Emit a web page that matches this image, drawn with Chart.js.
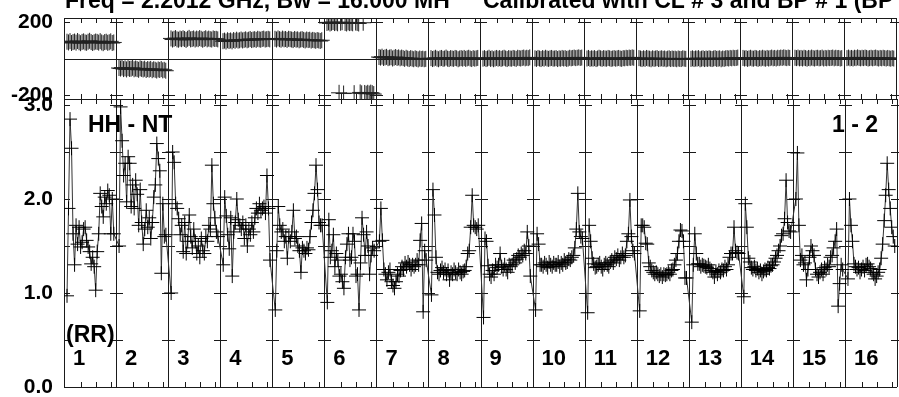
<!DOCTYPE html>
<html><head><meta charset="utf-8">
<script src="https://cdn.jsdelivr.net/npm/chart.js@4.4.1/dist/chart.umd.min.js"></script>
<style>
html,body{margin:0;padding:0;background:#fff;overflow:hidden;width:899px;height:397px;}
#wrap{position:relative;width:899px;height:397px;overflow:hidden;background:#fff;}
canvas{position:absolute;left:0;top:0;}
</style></head><body>
<div id="wrap"><canvas id="amp" width="905" height="397"></canvas><canvas id="ph" width="905" height="397"></canvas></div>
<script>
// ---- categories / tick labels ----
const ifLabels = ['1','2','3','4','5','6','7','8','9','10','11','12','13','14','15','16'];
const channels = [1,2,3,4,5,6,7,8,9,10,11,12,13,14,15,16,17,18,19,20,21,22,23,24,25,26,27,28,29,30,31,32];
const channelTicks = [10,20,30];
const phaseTicks = [-200, 200];
const ampTicks = [0, 1, 2, 3];
const ampMinorTicks = [0.5, 1, 1.5, 2, 2.5, 3];
const titleLeft = 'Freq = 2.2012 GHz, Bw = 16.000 MH';
const titleRight = 'Calibrated with CL # 3 and BP # 1 (BP';
const baselineLabel = 'HH - NT';
const stokesLabel = '(RR)';
const pageLabel = '1 - 2';

// ---- amplitude per IF (channels 1..32) ----
const amp01 = [0.97,1.9,2.85,2.54,1.63,1.3,1.72,1.52,1.7,1.49,1.54,1.68,1.7,1.56,1.49,1.44,1.31,1.38,1.28,1.03,1.44,1.63,2.06,1.92,1.81,2.02,1.95,2.09,2.04,1.63,2.0,1.63];
const amp02 = [1.5,2.98,2.62,2.25,2.38,1.97,2.45,2.38,1.92,2.15,1.9,2.2,2.05,1.72,2.1,1.75,1.52,1.68,1.88,1.7,1.8,1.58,1.75,2.02,2.15,2.59,2.43,2.3,1.21,1.95,1.6,1.62];
const amp03 = [1.0,2.5,2.39,1.95,1.9,1.79,1.62,1.72,1.44,1.75,1.42,1.55,1.83,1.6,1.48,1.68,1.55,1.42,1.5,1.38,1.58,1.45,1.42,1.6,1.55,1.72,1.68,2.36,1.95,1.8,1.65,1.6];
const amp04 = [1.3,2.02,1.82,1.62,1.47,1.8,1.18,1.65,1.75,2.0,1.78,1.72,1.68,1.75,1.58,1.72,1.5,1.68,1.62,1.75,1.65,1.8,1.9,1.85,1.95,1.88,1.9,1.92,1.85,2.25,1.9,1.35];
const amp05 = [0.82,1.45,1.92,1.72,1.65,1.68,1.55,1.6,1.37,1.6,1.55,1.65,1.88,1.58,1.6,1.5,1.45,1.22,1.48,1.45,1.42,1.48,1.46,1.6,1.75,1.88,2.06,2.36,2.1,1.75,1.72,1.72];
const amp06 = [0.9,1.78,1.38,1.45,1.62,1.28,1.42,1.35,1.18,1.2,1.12,1.05,1.38,1.52,1.63,1.35,1.38,1.63,1.55,1.18,1.2,0.82,1.32,1.8,1.62,1.4,1.65,1.5,1.2,1.4,1.48,1.45];
const amp07 = [1.55,1.9,1.56,1.25,1.2,1.14,1.22,1.25,1.12,1.08,1.05,1.12,1.2,1.18,1.24,1.28,1.25,1.32,1.28,1.33,1.3,1.25,1.3,1.28,1.3,1.35,1.3,1.56,1.74,0.8,1.45,1.35];
const amp08 = [0.98,2.1,1.83,1.38,1.22,1.2,1.24,1.27,1.22,1.25,1.2,1.24,1.14,1.22,1.2,1.25,1.22,1.2,1.25,1.22,1.2,1.23,1.24,1.28,1.42,1.45,1.7,2.04,1.72,1.7,1.68,1.72];
const amp09 = [0.74,1.58,1.55,1.29,1.2,1.17,1.24,1.2,1.3,1.27,1.3,1.42,1.28,1.25,1.3,1.25,1.22,1.3,1.28,1.3,1.35,1.32,1.36,1.4,1.38,1.42,1.4,1.45,1.42,1.65,1.5,1.18];
const amp10 = [0.82,1.63,1.52,1.3,1.3,1.28,1.32,1.3,1.27,1.33,1.3,1.28,1.32,1.3,1.3,1.33,1.28,1.32,1.3,1.35,1.32,1.33,1.36,1.35,1.38,1.4,1.48,1.68,2.06,1.65,1.6,1.58];
const amp11 = [0.79,1.72,1.55,1.37,1.31,1.27,1.28,1.3,1.32,1.28,1.25,1.3,1.32,1.3,1.28,1.33,1.35,1.32,1.38,1.36,1.4,1.35,1.38,1.42,1.38,1.4,1.55,1.63,1.99,1.6,1.45,1.42];
const amp12 = [0.81,1.72,1.72,1.7,1.53,1.52,1.32,1.28,1.24,1.22,1.2,1.22,1.2,1.18,1.2,1.17,1.2,1.19,1.2,1.22,1.2,1.24,1.25,1.3,1.35,1.42,1.55,1.67,1.66,1.55,1.16,1.16];
const amp13 = [0.69,1.3,1.63,1.42,1.31,1.31,1.28,1.3,1.29,1.28,1.27,1.3,1.26,1.24,1.22,1.17,1.23,1.2,1.24,1.22,1.25,1.24,1.28,1.25,1.3,1.38,1.42,1.42,1.7,1.45,1.43,1.42];
const amp14 = [0.96,1.95,1.7,1.37,1.33,1.27,1.25,1.28,1.24,1.26,1.22,1.24,1.2,1.23,1.25,1.24,1.27,1.26,1.29,1.3,1.33,1.37,1.4,1.45,1.5,1.61,1.63,1.79,2.2,1.75,1.66,1.65];
const amp15 = [2.0,2.49,1.72,1.35,1.4,1.3,1.32,1.14,1.25,1.38,1.5,1.45,1.4,1.25,1.2,1.17,1.22,1.25,1.2,1.27,1.25,1.3,1.28,1.38,1.4,1.48,1.55,1.68,0.86,1.1,1.3,1.25];
const amp16 = [1.15,2.0,1.72,1.55,1.31,1.28,1.25,1.27,1.22,1.25,1.28,1.24,1.3,1.31,1.28,1.26,1.22,1.2,1.15,1.18,1.22,1.25,1.37,1.52,1.77,2.04,2.38,2.1,1.9,1.7,1.6,1.5];

// ---- phase (degrees) per IF ----
const ph01 = [92,88,95,85,90,93,87,96,89,84,91,94,88,86,92,97,90,85,89,93,91,87,95,88,84,90,92,86,89,94,85,88];
const ph02 = [-52,-55,-50,-58,-54,-60,-53,-57,-56,-51,-59,-55,-58,-62,-54,-57,-60,-56,-63,-58,-61,-57,-64,-59,-62,-66,-60,-63,-58,-65,-62,-67];
const ph03 = [110,104,108,112,105,103,109,106,111,107,102,108,113,105,107,110,104,109,106,112,108,103,107,111,105,109,106,104,110,107,108,105];
const ph04 = [95,98,93,100,96,99,94,101,97,103,98,100,104,99,102,105,100,103,107,101,104,106,102,108,105,103,107,109,104,106,108,105];
const ph05 = [108,104,110,106,103,109,105,107,102,108,106,104,101,107,103,105,100,104,106,102,99,104,101,103,98,102,100,97,101,99,96,100];
const ph06 = [195,198,192,196,200,194,197,193,-188,196,199,-192,195,192,198,194,196,193,-190,197,195,192,-186,-191,196,-189,-193,-188,-192,-187,-190,-195];
const ph07 = [8,5,10,3,6,9,2,5,7,0,4,8,3,6,1,5,2,-2,4,0,-3,2,-1,-4,1,-2,-5,0,-3,-1,-4,-2];
const ph08 = [2,-3,0,4,-1,-4,1,3,-2,0,5,-1,-3,2,0,-2,3,1,-4,0,2,-1,3,-2,1,4,0,-3,2,-1,1,3];
const ph09 = [-1,2,-3,0,4,-2,1,-4,0,3,-1,2,-2,1,4,0,-3,2,0,-1,3,1,-2,4,2,0,3,5,1,4,2,6];
const ph10 = [1,-2,3,0,-3,2,-1,4,0,-2,1,3,-1,0,2,-3,1,-1,3,0,2,-2,0,4,1,3,5,2,4,6,3,5];
const ph11 = [0,3,-2,1,-1,2,-3,0,4,1,-2,2,0,-1,3,1,-2,0,2,-1,1,3,0,-2,2,1,4,2,5,3,6,4];
const ph12 = [2,0,-3,1,-2,3,0,-1,-4,1,-2,0,2,-3,-1,1,-2,0,-4,-1,1,-3,0,-2,-1,-4,0,-2,-3,1,-1,-2];
const ph13 = [-2,1,-3,0,-1,2,-4,-1,1,-3,0,-2,1,-1,-3,0,2,-2,-1,1,-4,0,-2,1,2,0,3,1,4,2,3,5];
const ph14 = [3,0,2,-2,1,4,0,-1,3,1,-2,2,0,4,1,-1,3,0,2,5,1,3,0,4,2,5,3,6,4,2,5,3];
const ph15 = [4,2,5,1,3,0,4,2,-1,3,1,5,2,0,3,4,1,2,5,0,3,1,4,2,3,5,1,4,2,3,0,2];
const ph16 = [2,5,1,3,0,4,2,6,3,1,4,2,5,3,0,2,4,1,3,5,2,0,3,1,4,2,0,3,1,-1,2,0];

const ampByIF = [amp01,amp02,amp03,amp04,amp05,amp06,amp07,amp08,amp09,amp10,amp11,amp12,amp13,amp14,amp15,amp16];
const phByIF = [ph01,ph02,ph03,ph04,ph05,ph06,ph07,ph08,ph09,ph10,ph11,ph12,ph13,ph14,ph15,ph16];

// ---- layout constants (style only) ----
const SPAN = 34.5;   // channel units per IF panel
const OFF = 1;
const FONT = '"Liberation Sans", Arial, Helvetica, sans-serif';
const INK = '#000';
const LINE = '#1a1a1a';

function build(arrs){
  const pts = [];
  arrs.forEach((a,k)=>a.forEach((v,i)=>pts.push({x:k*SPAN+OFF+channels[i], y:v})));
  return pts;
}

function framePlugin(yTicksForDividers, zeroLine){
  return {
    id:'frame',
    beforeDatasetsDraw(chart){
      const {ctx, chartArea:a, scales} = chart;
      const x = scales.x, y = scales.y;
      const px = v => Math.round(v) + 0.5;
      ctx.save();
      ctx.strokeStyle = LINE; ctx.lineWidth = 1;
      ctx.beginPath();
      ctx.moveTo(px(a.left), a.top); ctx.lineTo(px(a.left), a.bottom);
      ctx.moveTo(a.left, px(a.top)); ctx.lineTo(a.right, px(a.top));
      ctx.moveTo(a.left, px(a.bottom)); ctx.lineTo(a.right, px(a.bottom));
      if (zeroLine){ const yz = px(y.getPixelForValue(0)); ctx.moveTo(a.left, yz); ctx.lineTo(a.right, yz); }
      for (let k=1;k<=ifLabels.length;k++){
        const xd = px(x.getPixelForValue(k*SPAN));
        ctx.moveTo(xd, a.top); ctx.lineTo(xd, a.bottom);
      }
      for (let k=0;k<ifLabels.length;k++){
        for (const c of channelTicks){
          const xt = px(x.getPixelForValue(k*SPAN+OFF+c));
          ctx.moveTo(xt, a.top); ctx.lineTo(xt, a.top+5);
          ctx.moveTo(xt, a.bottom); ctx.lineTo(xt, a.bottom-5);
        }
      }
      for (const v of yTicksForDividers){
        const yy = px(y.getPixelForValue(v));
        ctx.moveTo(a.left, yy); ctx.lineTo(a.left+6, yy);
        for (let k=1;k<=ifLabels.length;k++){
          const xd = Math.round(x.getPixelForValue(k*SPAN));
          ctx.moveTo(xd-6, yy); ctx.lineTo(xd+7, yy);
        }
      }
      ctx.stroke();
      ctx.restore();
    }
  };
}

function yAxis(min, max, ticks, fmt){
  return {
    min, max,
    afterBuildTicks: s => { s.ticks = ticks.map(v=>({value:v})); },
    afterFit: s => { s.width = 64; s.paddingTop = 0; s.paddingBottom = 0; },
    grid: {display:false, drawTicks:false},
    border: {display:false},
    ticks: {padding: 11, color: INK, autoSkip:false, font:{family:FONT, size:21, weight:'bold'}, callback: v => fmt(v)}
  };
}

const xAxis = {type:'linear', min:0, max:ifLabels.length*SPAN, display:false};

const common = {
  responsive:false, animation:false, devicePixelRatio:1, events:[],
  plugins:{legend:{display:false}, tooltip:{enabled:false}, title:{display:false}}
};

// ---- phase chart (top) ----
new Chart(document.getElementById('ph'), {
  type:'scatter',
  data:{datasets:[{
    data: build(phByIF), showLine:true,
    borderColor:'#333', borderWidth:1,
    pointStyle:'cross', pointRadius:8, pointBorderColor:'#222', pointBorderWidth:1,
    segment:{ borderColor: c => (Math.floor(c.p0.parsed.x/SPAN)!==Math.floor(c.p1.parsed.x/SPAN) || Math.abs(c.p0.parsed.y-c.p1.parsed.y)>180) ? 'rgba(0,0,0,0)' : undefined }
  }]},
  options:Object.assign({}, common, {
    layout:{padding:{left:0, top:18, right:4, bottom:298}},
    scales:{x:xAxis, y:yAxis(-222, 222, phaseTicks, v => String(v))}
  }),
  plugins:[framePlugin(phaseTicks, true), {
    id:'title',
    afterDraw(chart){
      const ctx = chart.ctx; ctx.save();
      ctx.fillStyle = INK; ctx.font = 'bold 23px ' + FONT; ctx.textBaseline = 'alphabetic'; ctx.textAlign = 'left';
      ctx.fillText(titleLeft, 65, 8);
      ctx.fillText(titleRight, 483, 8);
      ctx.restore();
    }
  }]
});

// ---- amplitude chart (bottom) ----
new Chart(document.getElementById('amp'), {
  type:'scatter',
  data:{datasets:[{
    data: build(ampByIF), showLine:true,
    borderColor:'#333', borderWidth:1,
    pointStyle:'cross', pointRadius:7, pointBorderColor:'#000', pointBorderWidth:1
  }]},
  options:Object.assign({}, common, {
    layout:{padding:{left:0, top:99, right:4, bottom:10}},
    scales:{x:xAxis, y:yAxis(0, 3.064, ampTicks, v => Number(v).toFixed(1))}
  }),
  plugins:[framePlugin(ampMinorTicks, false), {
    id:'labels',
    afterDraw(chart){
      const ctx = chart.ctx, x = chart.scales.x; ctx.save();
      ctx.fillStyle = INK; ctx.textBaseline = 'alphabetic'; ctx.textAlign = 'left';
      ctx.font = 'bold 23px ' + FONT;
      ctx.fillText(baselineLabel, 88, 132);
      ctx.fillText(pageLabel, 832, 132);
      ctx.fillText(stokesLabel, 66, 342);
      ctx.font = 'bold 22px ' + FONT;
      ifLabels.forEach((lab,k)=>{ ctx.fillText(lab, x.getPixelForValue(k*SPAN)+9, 365); });
      ctx.restore();
    }
  }]
});
</script>
</body></html>
